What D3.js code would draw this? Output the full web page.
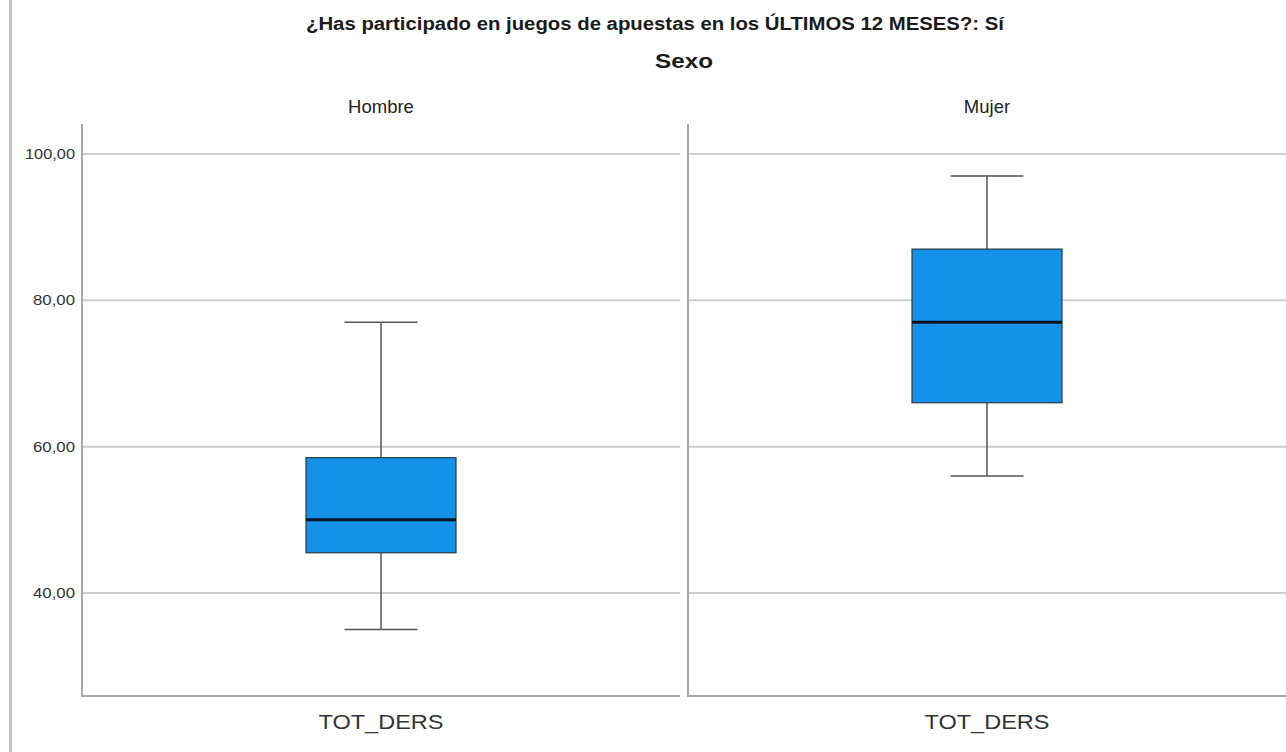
<!DOCTYPE html>
<html><head><meta charset="utf-8">
<script src="https://cdn.jsdelivr.net/npm/d3@7"></script>
<style>html,body{margin:0;padding:0;background:#fff;}svg{display:block;}</style>
</head><body>
<svg id="chart" width="1286" height="752"></svg>
<script>
const titleText = "¿Has participado en juegos de apuestas en los ÚLTIMOS 12 MESES?: Sí";
const facetTitle = "Sexo";
const panels = ["Hombre", "Mujer"];
const variable = "TOT_DERS";
const whiskerLow = [35, 56];
const q1 = [45.5, 66];
const median = [50, 77];
const q3 = [58.5, 87];
const whiskerHigh = [77, 97];
const yTicks = [40, 60, 80, 100];

const svg = d3.select("#chart");
const fmt = v => d3.format(".2f")(v).replace(".", ",");

// left page border
svg.append("line").attr("x1", 10.5).attr("x2", 10.5).attr("y1", 0).attr("y2", 752)
  .attr("stroke", "#c4c4c4").attr("stroke-width", 3);

const plotTop = 124, plotBottom = 696;
const y = d3.scaleLinear().domain([100, 40]).range([154, 593]);
const panelX = d3.scalePoint().domain(panels).range([82, 688]);
const panelW = 598;

svg.append("text").attr("x", 655).attr("y", 30).attr("text-anchor", "middle")
  .attr("font-family", "'Liberation Sans',Arial,sans-serif")
  .attr("font-weight", "bold").attr("font-size", 18).attr("fill", "#1a1a1a")
  .attr("textLength", 698).attr("lengthAdjust", "spacingAndGlyphs").text(titleText);

svg.append("text").attr("x", 684).attr("y", 68).attr("text-anchor", "middle")
  .attr("font-family", "'Liberation Sans',Arial,sans-serif")
  .attr("font-weight", "bold").attr("font-size", 20).attr("fill", "#1a1a1a")
  .attr("textLength", 58).attr("lengthAdjust", "spacingAndGlyphs").text(facetTitle);

// y tick labels
svg.append("g").selectAll("text").data(yTicks).join("text")
  .attr("x", 75).attr("y", d => y(d) + 5).attr("text-anchor", "end")
  .attr("font-family", "'Liberation Sans',Arial,sans-serif").attr("font-size", 14)
  .attr("fill", "#333").attr("textLength", d => d >= 100 ? 50 : 42).attr("lengthAdjust", "spacingAndGlyphs")
  .text(d => fmt(d));

panels.forEach((p, i) => {
  const x0 = panelX(p), w = panelW;
  const g = svg.append("g");
  const cx = x0 + w / 2;
  // panel label
  g.append("text").attr("x", cx).attr("y", 113).attr("text-anchor", "middle")
    .attr("font-family", "'Liberation Sans',Arial,sans-serif")
    .attr("font-size", 18.5).attr("fill", "#222").text(p);
  // gridlines
  g.selectAll("line.grid").data(yTicks).join("line").attr("class", "grid")
    .attr("x1", x0).attr("x2", x0 + w).attr("y1", d => y(d)).attr("y2", d => y(d))
    .attr("stroke", "#cfcfcf").attr("stroke-width", 2);
  // axes
  g.append("line").attr("x1", x0).attr("x2", x0).attr("y1", plotTop).attr("y2", plotBottom + 1)
    .attr("stroke", "#a8a8a8").attr("stroke-width", 2);
  g.append("line").attr("x1", x0).attr("x2", x0 + w).attr("y1", plotBottom).attr("y2", plotBottom)
    .attr("stroke", "#a8a8a8").attr("stroke-width", 2);
  // x label
  g.append("text").attr("x", cx).attr("y", 729).attr("text-anchor", "middle")
    .attr("font-family", "'Liberation Sans',Arial,sans-serif").attr("font-size", 20)
    .attr("fill", "#333").attr("textLength", 125).attr("lengthAdjust", "spacingAndGlyphs")
    .text(variable);
  // box plot
  const bw = 150, cw = 73;
  g.append("line").attr("x1", cx).attr("x2", cx).attr("y1", y(whiskerHigh[i])).attr("y2", y(q3[i]))
    .attr("stroke", "#555").attr("stroke-width", 1.5);
  g.append("line").attr("x1", cx).attr("x2", cx).attr("y1", y(q1[i])).attr("y2", y(whiskerLow[i]))
    .attr("stroke", "#555").attr("stroke-width", 1.5);
  [whiskerHigh[i], whiskerLow[i]].forEach(v => {
    g.append("line").attr("x1", cx - cw/2).attr("x2", cx + cw/2).attr("y1", y(v)).attr("y2", y(v))
      .attr("stroke", "#555").attr("stroke-width", 1.5);
  });
  g.append("rect").attr("x", cx - bw/2).attr("y", y(q3[i])).attr("width", bw)
    .attr("height", y(q1[i]) - y(q3[i])).attr("fill", "#1591e8")
    .attr("stroke", "#2a3a48").attr("stroke-width", 1.2);
  g.append("line").attr("x1", cx - bw/2).attr("x2", cx + bw/2).attr("y1", y(median[i])).attr("y2", y(median[i]))
    .attr("stroke", "#0a1420").attr("stroke-width", 3);
});
</script>
</body></html>
